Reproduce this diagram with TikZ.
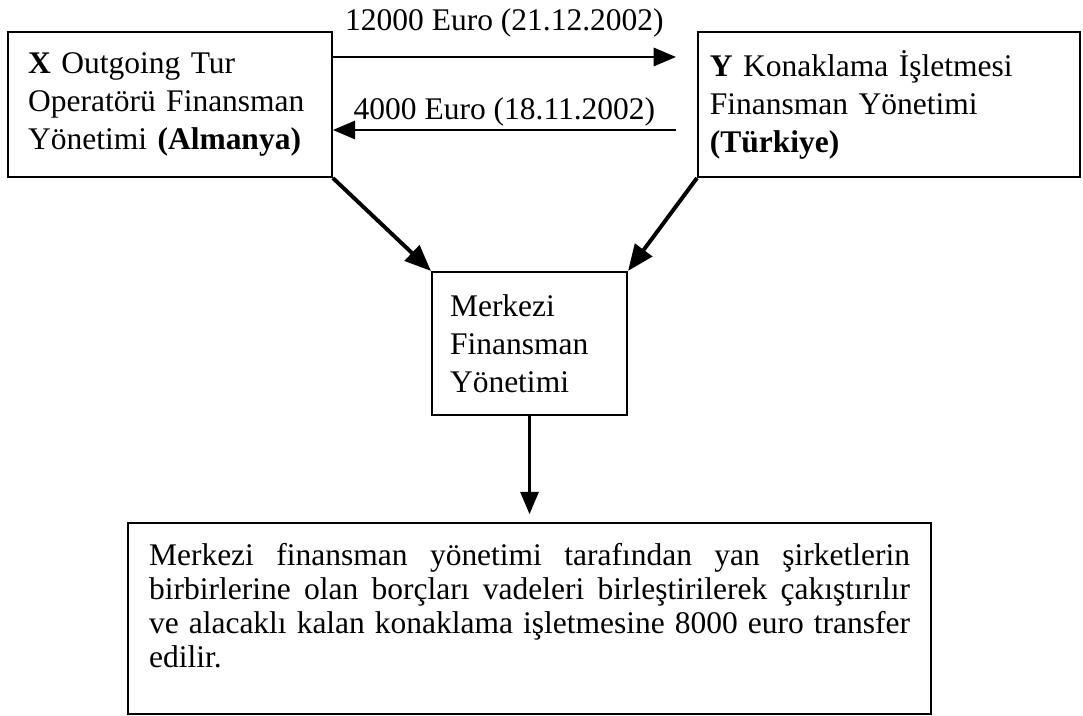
\documentclass[tikz,border=0pt]{standalone}
\usepackage{fontspec}
\setmainfont{Liberation Serif}
\usetikzlibrary{arrows.meta}

\begin{document}
\begin{tikzpicture}[
    kutu/.style={rectangle, draw, line width=0.8pt, align=left, inner ysep=0pt, font=\fontsize{12}{14.5}\selectfont},
    ok/.style={-{Triangle[length=8.5pt, width=7pt]}, line width=0.8pt},
    kalinok/.style={-{Triangle[length=10pt, width=8pt]}, line width=1.5pt},
    etiket/.style={inner sep=1pt, font=\fontsize{12}{14.5}\selectfont}]

\useasboundingbox (0,0) rectangle (14.503,9.588);

\node[kutu, text width=3.80cm, inner xsep=0.268cm, minimum height=1.942cm] (opx) at (2.276,8.189) {\textbf{X} Outgoing Tur\\Operatörü Finansman\\Yönetimi \textbf{(Almanya)}};
\node[kutu, text width=4.795cm, inner xsep=0.16cm, minimum height=1.942cm] (kon) at (11.905,8.189) {\textbf{Y} Konaklama İşletmesi\\Finansman Yönetimi\\\textbf{(Türkiye)}};
\node[kutu, text width=2.129cm, inner xsep=0.241cm, minimum height=1.915cm] (merkez) at (7.091,4.988) {Merkezi\\Finansman\\Yönetimi};
\node[kutu, align=justify, text width=10.19cm, inner xsep=0.28cm, minimum height=2.557cm, text depth=49pt, font=\fontsize{12}{13}\selectfont] (sonuc) at (7.091,1.306) {\hyphenpenalty=10000\tolerance=9999
    Merkezi finansman yönetimi tarafından yan şirketlerin\linebreak
    birbirlerine olan borçları vadeleri birleştirilerek çakıştırılır\linebreak
    ve alacaklı kalan konaklama işletmesine 8000 euro transfer\linebreak
    edilir.};

\coordinate (gelir) at (9.052,8.825);
\coordinate (gider) at (9.052,7.847);

\draw[ok] (gelir -| opx.east) -- node[etiket, above=6pt] (l1) {12000 Euro (21.12.2002)} (gelir);
\draw[ok] (gider) -- node[etiket, above] (l2) {4000 Euro (18.11.2002)} (gider -| opx.east);

\draw[kalinok] (opx.south east) -- (merkez.north west);
\draw[kalinok] (kon.south west) -- (merkez.north east);
\draw[ok] (merkez.south) -- ([yshift=3pt]sonuc.north);

\end{tikzpicture}
\end{document}
